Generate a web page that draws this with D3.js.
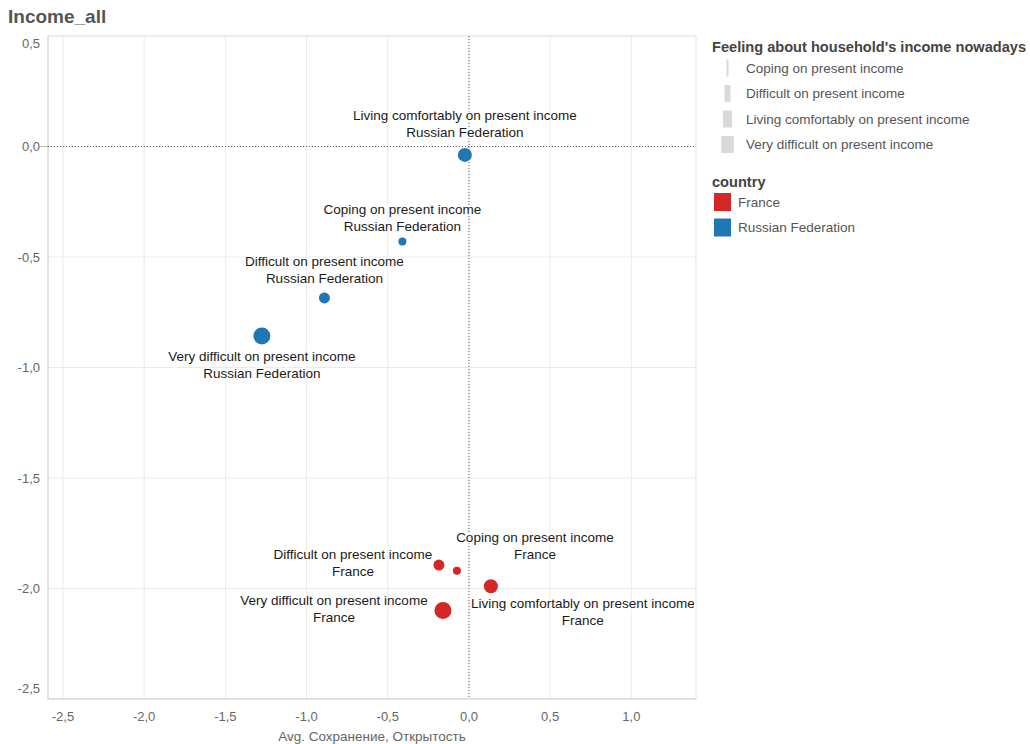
<!DOCTYPE html>
<html>
<head>
<meta charset="utf-8">
<script src="https://cdn.jsdelivr.net/npm/d3@7"></script>
<style>
  body { margin: 0; background: #fff; font-family: "Liberation Sans", Arial, sans-serif; }
  svg text { font-family: "Liberation Sans", Arial, sans-serif; }
</style>
</head>
<body>
<svg id="chart" width="1030" height="744"></svg>
<script>
// data
let categories = ["Coping on present income", "Difficult on present income",
    "Living comfortably on present income", "Very difficult on present income"];
let countries = ["France", "Russian Federation"];
let franceX = [-0.074, -0.185, 0.135, -0.16];
let franceY = [-1.92, -1.894, -1.99, -2.10];
let russiaX = [-0.41, -0.89, -0.025, -1.275];
let russiaY = [-0.43, -0.685, -0.038, -0.857];
let xTicks = [-2.5, -2.0, -1.5, -1.0, -0.5, 0.0, 0.5, 1.0];
let yTicks = [0.5, 0.0, -0.5, -1.0, -1.5, -2.0, -2.5];

// label placement (dx, dy of first line) per country / category
let labelPos = {
    "France": [[78, -29], [-86, -6], [92, 22], [-109, -6]],
    "Russian Federation": [[0, -28], [0, -32], [0, -35], [0, 25]]
};

let colors = d3.scaleOrdinal().domain(countries).range(["#d62728", "#1f77b4"]);
let sizeScale = d3.scaleOrdinal().domain(categories).range([4, 5.5, 7, 8.5]);
let barWidth = d3.scaleOrdinal().domain(categories).range([2, 6, 9, 12.5]);

let points = [];
categories.forEach((c, i) => {
    points.push({country: "France", cat: c, x: franceX[i], y: franceY[i], pos: labelPos["France"][i]});
    points.push({country: "Russian Federation", cat: c, x: russiaX[i], y: russiaY[i], pos: labelPos["Russian Federation"][i]});
});

let loc = d3.formatLocale({decimal: ",", thousands: " ", grouping: [3], currency: ["", ""], minus: "-"});
let fmt = loc.format(".1f");

let plotLeft = 48, plotRight = 696, plotTop = 36, plotBottom = 699;
let x = d3.scaleLinear().domain([-2.592, 1.398]).range([plotLeft, plotRight]);
let y = d3.scaleLinear().domain([-2.5, 0.5]).range([plotBottom, plotTop]);

let svg = d3.select("#chart");

// title
svg.append("text").attr("x", 8).attr("y", 23)
    .attr("font-size", 19).attr("font-weight", "bold").attr("fill", "#555")
    .text("Income_all");

// gridlines
svg.append("g").selectAll("line").data(xTicks).join("line")
    .attr("x1", d => x(d)).attr("x2", d => x(d))
    .attr("y1", plotTop).attr("y2", plotBottom)
    .attr("stroke", "#ebebeb");
svg.append("g").selectAll("line").data(yTicks).join("line")
    .attr("x1", plotLeft).attr("x2", plotRight)
    .attr("y1", d => y(d)).attr("y2", d => y(d))
    .attr("stroke", "#ebebeb");

// border
svg.append("rect").attr("x", plotLeft).attr("y", plotTop)
    .attr("width", plotRight - plotLeft).attr("height", plotBottom - plotTop)
    .attr("fill", "none").attr("stroke", "#e3e3e3");
svg.append("line").attr("x1", plotLeft).attr("x2", plotLeft).attr("y1", plotTop).attr("y2", plotBottom).attr("stroke", "#d4d4d4");
svg.append("line").attr("x1", plotLeft).attr("x2", plotRight).attr("y1", plotBottom).attr("y2", plotBottom).attr("stroke", "#d4d4d4");

// zero reference lines
svg.append("line").attr("x1", plotLeft).attr("x2", plotRight)
    .attr("y1", y(0)).attr("y2", y(0))
    .attr("stroke", "#666").attr("stroke-dasharray", "1,2");
svg.append("line").attr("x1", plotLeft - 8).attr("x2", plotLeft)
    .attr("y1", y(0)).attr("y2", y(0)).attr("stroke", "#bbb");
svg.append("line").attr("x1", x(0)).attr("x2", x(0))
    .attr("y1", plotTop).attr("y2", plotBottom)
    .attr("stroke", "#666").attr("stroke-dasharray", "1,2");

// axes labels
svg.append("g").selectAll("text").data(xTicks).join("text")
    .attr("x", d => x(d)).attr("y", 721)
    .attr("text-anchor", "middle").attr("font-size", 13).attr("fill", "#666")
    .text(d => fmt(d));
svg.append("g").selectAll("text").data(yTicks).join("text")
    .attr("x", 40)
    .attr("y", d => d === 0.5 ? y(d) + 12 : (d === -2.5 ? y(d) - 6 : y(d) + 4.5))
    .attr("text-anchor", "end").attr("font-size", 13).attr("fill", "#666")
    .text(d => fmt(d));
svg.append("text").attr("x", (plotLeft + plotRight) / 2).attr("y", 741)
    .attr("text-anchor", "middle").attr("font-size", 13.5).attr("fill", "#666")
    .text("Avg. Сохранение, Открытость");

// points
svg.append("g").selectAll("circle").data(points).join("circle")
    .attr("cx", d => x(d.x)).attr("cy", d => y(d.y))
    .attr("r", d => sizeScale(d.cat))
    .attr("fill", d => colors(d.country));

// labels
let labels = svg.append("g").selectAll("text").data(points).join("text")
    .attr("x", d => x(d.x) + d.pos[0])
    .attr("y", d => y(d.y) + d.pos[1])
    .attr("text-anchor", "middle").attr("font-size", 13.5).attr("fill", "#1a1a1a")
    .attr("stroke", "#fff").attr("stroke-width", 3).attr("paint-order", "stroke");
labels.append("tspan").text(d => d.cat);
labels.append("tspan")
    .attr("x", d => x(d.x) + d.pos[0]).attr("dy", 17)
    .text(d => d.country);

// legend: size
let lg = svg.append("g");
lg.append("text").attr("x", 712).attr("y", 52)
    .attr("font-size", 14.6).attr("font-weight", "bold").attr("fill", "#444")
    .text("Feeling about household's income nowadays");
categories.forEach((c, i) => {
    let cy = 68 + i * 25.5;
    lg.append("rect")
        .attr("x", 727.5 - barWidth(c) / 2).attr("y", cy - 8.5)
        .attr("width", barWidth(c)).attr("height", 17)
        .attr("fill", "#d9d9d9");
    lg.append("text").attr("x", 746).attr("y", cy + 4.5)
        .attr("font-size", 13.5).attr("fill", "#555").text(c);
});

// legend: colour
lg.append("text").attr("x", 712).attr("y", 187)
    .attr("font-size", 14.6).attr("font-weight", "bold").attr("fill", "#444")
    .text("country");
countries.forEach((c, i) => {
    let cy = 202 + i * 25.5;
    lg.append("rect").attr("x", 714).attr("y", cy - 9)
        .attr("width", 17).attr("height", 18).attr("fill", colors(c));
    lg.append("text").attr("x", 738).attr("y", cy + 4.5)
        .attr("font-size", 13.5).attr("fill", "#555").text(c);
});
</script>
</body>
</html>
